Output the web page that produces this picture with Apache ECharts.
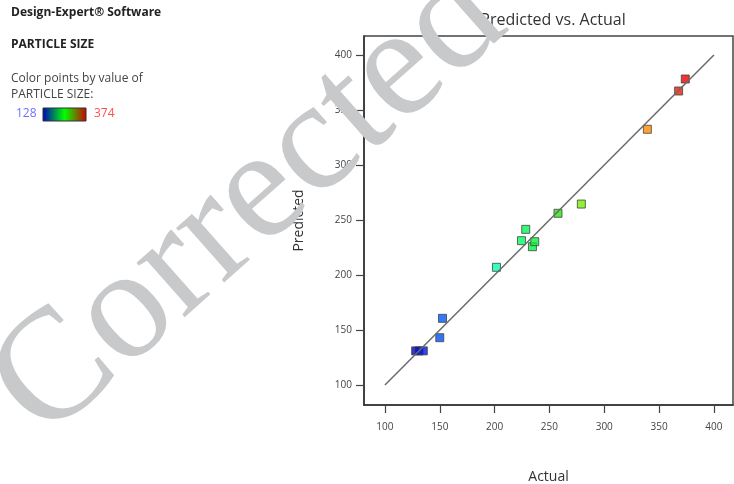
<!DOCTYPE html>
<html>
<head>
<meta charset="utf-8">
<script src="https://cdn.jsdelivr.net/npm/echarts@6/dist/echarts.min.js"></script>
<style>
html,body{margin:0;padding:0;background:#fff;}
#chart{width:734px;height:484px;}
</style>
</head>
<body>
<div id="chart"></div>
<script>
// Data
var actual    = [128, 131, 135, 150, 152.5, 201.7, 224.5, 228.4, 234.5, 236.6, 257.8, 279.1, 339.3, 367.8, 373.9];
var predicted = [131, 131, 131, 143, 160.6, 207,   231.2, 241.5, 225.7, 230.3, 256.1, 264.5, 332.5, 367.3, 378.2];
var tickValues = [100, 150, 200, 250, 300, 350, 400];
var fitLine = [[100, 100], [400, 400]];
var colorMin = 128, colorMax = 374;

var points = actual.map(function (a, i) { return [a, predicted[i]]; });

var chart = echarts.init(document.getElementById('chart'));
var font = '"Open Sans", "Noto Sans", sans-serif';
var axisCommon = {
  type: 'value',
  splitLine: { show: false },
  axisLine: { show: true, onZero: false, lineStyle: { color: '#333', width: 1.5 } },
  axisTick: { show: true, length: 8, customValues: tickValues, lineStyle: { color: '#444', width: 1.2 } },
  axisLabel: { customValues: tickValues, color: '#444', fontSize: 10, fontFamily: font }
};
chart.setOption({
  animation: false,
  backgroundColor: '#fff',
  title: {
    text: 'Predicted vs. Actual',
    left: 548, top: 7, textAlign: 'center',
    textStyle: { fontSize: 16, fontWeight: 'normal', color: '#333', fontFamily: font }
  },
  grid: {
    left: 364, top: 36, right: 1, bottom: 79, show: true, borderColor: '#444', borderWidth: 1.5,
    containLabel: false, outerBoundsMode: 'none'
  },
  xAxis: Object.assign({}, axisCommon, {
    min: 80.9, max: 417.4,
    name: 'Actual', nameLocation: 'middle', nameGap: 65,
    nameTextStyle: { fontSize: 14, color: '#333', fontFamily: font },
    axisLabel: Object.assign({}, axisCommon.axisLabel, { margin: 17 })
  }),
  yAxis: Object.assign({}, axisCommon, {
    min: 81.8, max: 417.3,
    name: 'Predicted', nameLocation: 'middle', nameGap: 58,
    nameTextStyle: { fontSize: 14, color: '#333', fontFamily: font },
    axisLabel: Object.assign({}, axisCommon.axisLabel, { margin: 12 })
  }),
  visualMap: {
    show: false, type: 'continuous', seriesIndex: 0, dimension: 0,
    min: colorMin, max: colorMax,
    inRange: { color: ['#0000d0', '#0070ff', '#00ffe0', '#00ff70', '#10e010', '#80f000', '#ffd000', '#ff8000', '#ee0000'] }
  },
  series: [
    {
      type: 'scatter', data: points, symbol: 'rect', symbolSize: 8, z: 2,
      itemStyle: { borderColor: '#444', borderWidth: 1 }
    },
    {
      type: 'line', data: fitLine, symbol: 'none', z: 3,
      lineStyle: { color: '#6a6a6a', width: 1.5 }
    }
  ],
  graphic: [
    { type: 'text', left: 11, top: 7, style: { text: 'Design-Expert® Software', fill: '#222', font: 'bold 12px ' + font } },
    { type: 'text', left: 11, top: 39, style: { text: 'PARTICLE SIZE', fill: '#222', font: 'bold 12px ' + font } },
    { type: 'text', left: 11, top: 71, style: { text: 'Color points by value of\nPARTICLE SIZE:', fill: '#444', font: '12px ' + font, lineHeight: 16 } },
    { type: 'text', left: 16, top: 108, style: { text: String(colorMin), fill: '#7070ff', font: '12px ' + font } },
    { type: 'text', left: 94, top: 108, style: { text: String(colorMax), fill: '#ff5050', font: '12px ' + font } },
    {
      type: 'rect', shape: { x: 43, y: 108, width: 43, height: 13 },
      style: {
        fill: new echarts.graphic.LinearGradient(0, 0, 1, 0, [
          { offset: 0, color: '#0000c0' }, { offset: 0.5, color: '#00ff00' }, { offset: 1, color: '#d00000' }
        ]),
        stroke: '#333', lineWidth: 1
      }
    },
    {
      type: 'text', x: 250, y: 204, rotation: 41.5 * Math.PI / 180, z: 100,
      style: { text: 'Corrected', fill: '#c8c9cb', font: '158px "Liberation Serif", "DejaVu Serif", serif', align: 'center', verticalAlign: 'middle' }
    }
  ]
});
</script>
</body>
</html>
